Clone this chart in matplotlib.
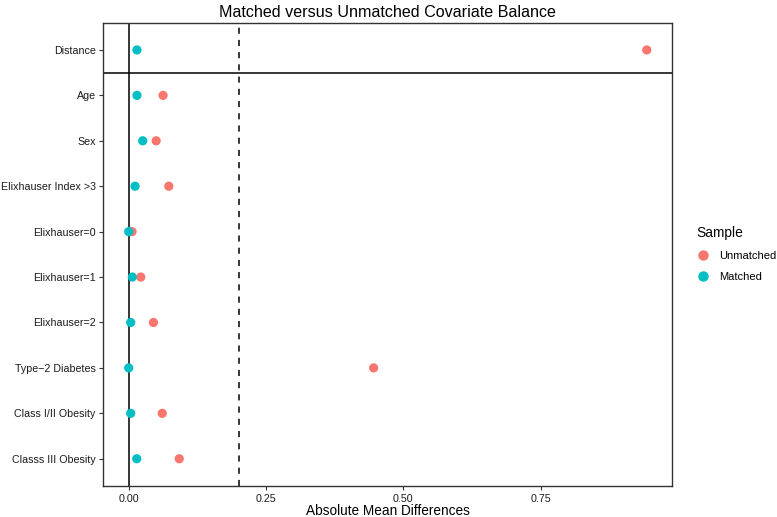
import matplotlib
matplotlib.use("Agg")
import matplotlib.pyplot as plt
from matplotlib.lines import Line2D

plt.rcParams['font.family'] = ['Liberation Sans', 'DejaVu Sans']

covariates = ["Distance", "Age", "Sex", "Elixhauser Index >3", "Elixhauser=0",
              "Elixhauser=1", "Elixhauser=2", "Type\u22122 Diabetes",
              "Class I/II Obesity", "Classs III Obesity"]
unmatched = [0.9435, 0.0625, 0.050, 0.073, 0.006, 0.022, 0.045, 0.446, 0.061, 0.092]
matched = [0.015, 0.015, 0.0255, 0.0115, 0.0, 0.0066, 0.0036, 0.0, 0.0036, 0.0146]
xticks = [0.0, 0.25, 0.50, 0.75]

red = "#F8766D"
teal = "#00BFC4"

fig = plt.figure(figsize=(7.77, 5.17), dpi=100)
ax = fig.add_axes([103.3 / 777, 31 / 517, (672.3 - 103.3) / 777, (486 - 22.7) / 517])

ypos = list(range(len(covariates)))
ax.axvline(0, color="black", lw=1.1, zorder=1)
ax.axvline(0.2, color="black", lw=1.1, ls=(0, (4, 4)), zorder=1)
ax.axhline(0.5, color="black", lw=1.1, zorder=1)

ax.scatter(unmatched, ypos, s=44, color=red, edgecolors="none", zorder=3)
ax.scatter(matched, ypos, s=44, color=teal, edgecolors="none", zorder=4)

ax.set_xlim(-0.0463, 0.990)
ax.set_ylim(len(covariates) - 1 + 0.6, -0.6)
ax.set_yticks(ypos)
ax.set_yticklabels(covariates)
ax.set_xticks(xticks)
ax.set_xticklabels(["0.00", "0.25", "0.50", "0.75"])

for s in ax.spines.values():
    s.set_color("#333333")
    s.set_linewidth(1.0)
ax.tick_params(axis="both", colors="#333333", labelcolor="#1A1A1A", labelsize=7.7,
               length=3, width=0.8, pad=2.5)

ax.set_xlabel("Absolute Mean Differences", fontsize=9.8, labelpad=0)
ax.set_title("Matched versus Unmatched Covariate Balance", fontsize=11.6, pad=4)

handles = [Line2D([], [], marker="o", ls="none", color=red, markersize=6.5),
           Line2D([], [], marker="o", ls="none", color=teal, markersize=6.5)]
leg = fig.legend(handles, ["Unmatched", "Matched"], title="Sample",
                 loc="center left", bbox_to_anchor=(686 / 777, 1 - 254 / 517),
                 frameon=False, fontsize=8.0, title_fontsize=9.9,
                 handlelength=1.2, handletextpad=0.9, labelspacing=0.95)
leg._legend_box.align = "left"

fig.savefig("out.png", dpi=100)
